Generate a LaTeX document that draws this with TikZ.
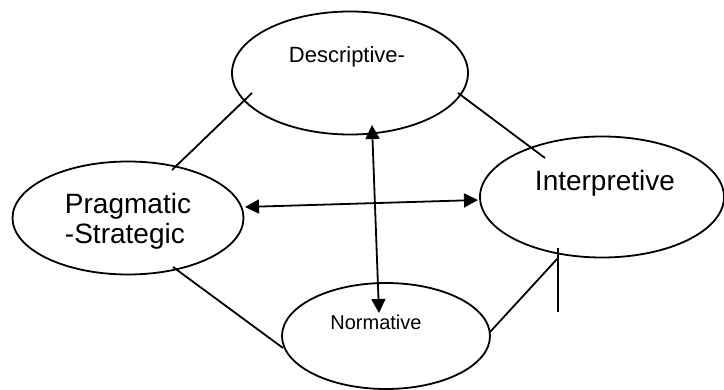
\documentclass[tikz,border=0pt]{standalone}
\usepackage{fontspec}
\setmainfont{Liberation Sans}
\usetikzlibrary{shapes.geometric,arrows.meta}

\begin{document}
\begin{tikzpicture}[x=0.5pt,y=-0.5pt,
  oval/.style={draw,ellipse,line width=0.9pt,inner sep=0pt},
  lbl/.style={inner sep=0pt,anchor=base},
  link/.style={line width=0.9pt},
  both/.style={line width=0.9pt,{Triangle[length=7pt,width=7pt]}-{Triangle[length=7pt,width=7pt]}}]
\useasboundingbox (0,0) rectangle (724,390);
% the four views
\node[oval,minimum width=118pt,minimum height=61.5pt] (desc) at (350,73) {};
\node[oval,minimum width=115.5pt,minimum height=56.5pt] (prag) at (128,218) {};
\node[oval,minimum width=122pt,minimum height=60.5pt] (interp) at (602,197) {};
\node[oval,minimum width=104pt,minimum height=53pt] (norm) at (386,336) {};
\node[lbl,font=\fontsize{11}{13}\selectfont] (desclbl) at (347,63) {Descriptive-};
\node[inner sep=0pt,align=left,font=\fontsize{14}{15}\selectfont] (praglbl) at (128,221) {Pragmatic\\-Strategic};
\node[lbl,font=\fontsize{14}{16}\selectfont] (interplbl) at (605,191) {Interpretive};
\node[lbl,font=\fontsize{10}{12}\selectfont] (normlbl) at (376,329) {Normative};
% line ends
\coordinate (dp1) at (252,93);
\coordinate (dp2) at (172,170);
\coordinate (di1) at (458,93);
\coordinate (di2) at (545,158);
\coordinate (pn1) at (173,267);
\coordinate (pn2) at (283,348);
\coordinate (ni1) at (490,332);
\coordinate (ni2) at (558,258);
\coordinate (tk1) at (558,248);
\coordinate (tk2) at (558,312);
\coordinate (vup) at (372,125);
\coordinate (vdn) at (379,313);
\coordinate (hl) at (245,207);
\coordinate (hr) at (478,200);
% connectors
\draw[link] (dp1) -- (dp2);
\draw[link] (di1) -- (di2);
\draw[link] (pn1) -- (pn2);
\draw[link] (ni1) -- (ni2);
\draw[link] (tk1) -- (tk2);
\draw[both] (vup) -- (vdn);
\draw[both] (hl) -- (hr);
\end{tikzpicture}
\end{document}
